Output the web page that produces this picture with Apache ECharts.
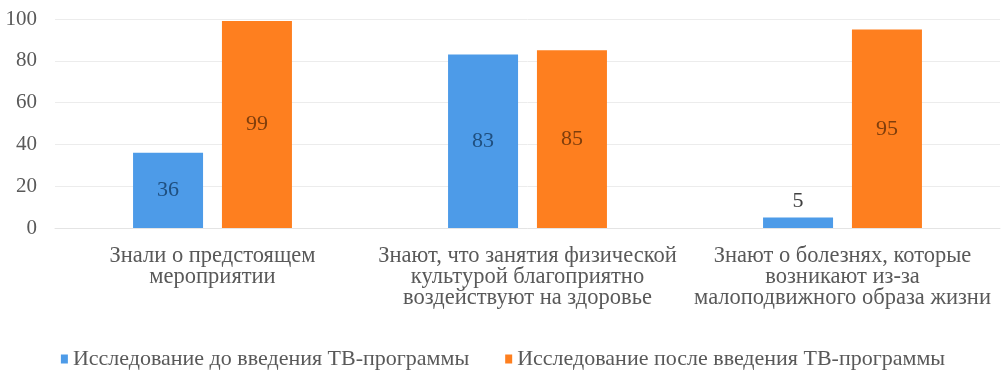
<!DOCTYPE html>
<html lang="ru">
<head>
    <meta charset="UTF-8">
    <title>Диаграмма</title>
    <script src="https://cdn.jsdelivr.net/npm/echarts@6/dist/echarts.min.js"></script>
    <style>
        html, body { margin: 0; padding: 0; background: #fff; }
    </style>
</head>
<body>
    <div id="chart" style="width: 1006px; height: 370px;"></div>
    <script>
        // данные
        var categories = [
            'Знали о предстоящем\nмероприятии',
            'Знают, что занятия физической\nкультурой благоприятно\nвоздействуют на здоровье',
            'Знают о болезнях, которые\nвозникают из-за\nмалоподвижного образа жизни'
        ];
        var seriesNames = ['Исследование до введения ТВ-программы', 'Исследование после введения ТВ-программы'];
        var beforeValues = [36, 83, 5];
        var afterValues = [99, 85, 95];
        var yTicks = [0, 20, 40, 60, 80, 100];

        var font = '"Liberation Serif", "Times New Roman", serif';

        // маленькие столбики — подпись сверху
        function withLabels(values, innerColor) {
            return values.map(function (v) {
                if (v < 10) {
                    return { value: v, label: { position: 'top', color: '#404040' } };
                }
                return { value: v, label: { position: 'inside', color: innerColor } };
            });
        }

        var chart = echarts.init(document.getElementById('chart'));
        var option = {
            animation: false,
            textStyle: { fontFamily: font },
            grid: { left: 55, right: 6, top: 19, bottom: 142 },
            legend: {
                data: seriesNames,
                top: 343,
                left: 'center',
                itemWidth: 7,
                itemHeight: 9,
                itemGap: 36,
                icon: 'rect',
                textStyle: { fontFamily: font, fontSize: 22, color: '#595959' }
            },
            xAxis: {
                type: 'category',
                data: categories,
                axisTick: { show: false },
                axisLine: { lineStyle: { color: '#e4e4e4' } },
                axisLabel: {
                    interval: 0,
                    fontFamily: font,
                    fontSize: 22.5,
                    color: '#595959',
                    lineHeight: 21,
                    margin: 18
                }
            },
            yAxis: {
                type: 'value',
                min: yTicks[0],
                max: yTicks[yTicks.length - 1],
                interval: 20,
                axisLine: { show: false },
                axisTick: { show: false },
                splitLine: { lineStyle: { color: '#ececec' } },
                axisLabel: { fontFamily: font, fontSize: 21, color: '#595959', margin: 18 }
            },
            series: [
                {
                    name: seriesNames[0],
                    type: 'bar',
                    barWidth: 70,
                    barGap: '27%',
                    itemStyle: { color: '#4d9be8' },
                    label: { show: true, fontFamily: font, fontSize: 22 },
                    data: withLabels(beforeValues, '#1f4f7f')
                },
                {
                    name: seriesNames[1],
                    type: 'bar',
                    barWidth: 70,
                    itemStyle: { color: '#fe7f1f' },
                    label: { show: true, fontFamily: font, fontSize: 22 },
                    data: withLabels(afterValues, '#7f3e0c')
                }
            ]
        };
        chart.setOption(option);
    </script>
</body>
</html>
